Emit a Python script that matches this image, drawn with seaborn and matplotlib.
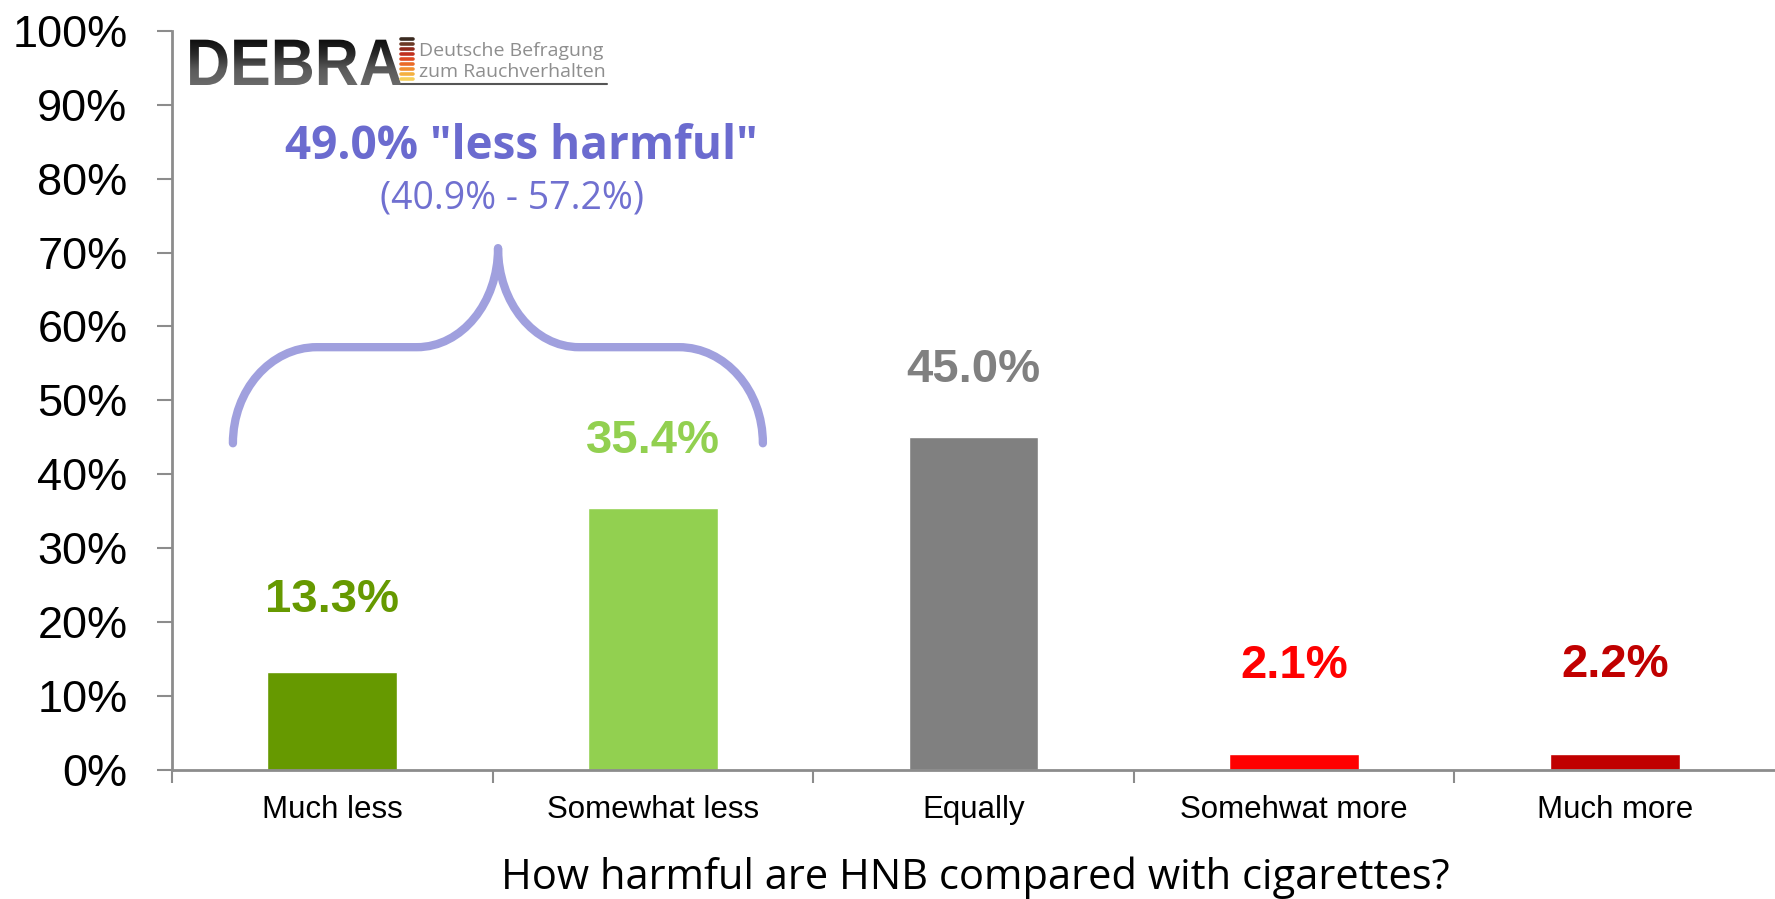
import numpy as np
import pandas as pd
import matplotlib
matplotlib.use("Agg")
import matplotlib.pyplot as plt
from matplotlib.path import Path
from matplotlib.patches import PathPatch
from matplotlib.lines import Line2D
from matplotlib.textpath import TextPath
from matplotlib.font_manager import FontProperties
from matplotlib.transforms import Affine2D
from matplotlib.colors import LinearSegmentedColormap
import seaborn as sns

# ---- data ----
categories = ["Much less", "Somewhat less", "Equally", "Somehwat more", "Much more"]
shares = [13.3, 35.4, 45.0, 2.1, 2.2]
bar_colors = ["#669900", "#92D050", "#808080", "#FF0000", "#C00000"]
y_ticks = list(range(0, 101, 10))
combined_share = 49.0
combined_ci = (40.9, 57.2)
x_title = "How harmful are HNB compared with cigarettes?"

# ---- style ----
sns.set_theme(style="white")
plt.rcParams["font.family"] = ["Liberation Sans", "DejaVu Sans"]

W, H = 1775, 899
fig = plt.figure(figsize=(W / 100, H / 100), dpi=100)
fig.patch.set_facecolor("white")


def fx(px):
    return px / W


def fy(py):
    return 1 - py / H


ax = fig.add_axes([fx(172), fy(770), 1 - fx(172), (770 - 30.8) / H])

df = pd.DataFrame({"category": categories, "share": shares})
sns.barplot(data=df, x="category", y="share", hue="category",
            palette=bar_colors, width=0.405, saturation=1,
            legend=False, ax=ax)

ax.set_xlim(-0.5, len(categories) - 0.5)
ax.set_ylim(0, 100)
ax.set_xlabel("")
ax.set_ylabel("")

axis_grey = "#8C8C8C"
for side in ("top", "right"):
    ax.spines[side].set_visible(False)
for side in ("left", "bottom"):
    ax.spines[side].set_color(axis_grey)
    ax.spines[side].set_linewidth(2)

ax.set_yticks(y_ticks)
ax.set_yticklabels([f"{t}%" for t in y_ticks])
ax.tick_params(axis="y", left=True, length=11, width=1.5, color=axis_grey,
               pad=21, labelsize=32.5, labelcolor="black")
ax.set_xticks(range(len(categories)))
ax.set_xticklabels(categories)
ax.tick_params(axis="x", which="major", bottom=True, length=0, pad=18,
               labelsize=22.5, labelcolor="black")
ax.set_xticks(np.arange(-0.5, len(categories) - 0.5, 1), minor=True)
ax.tick_params(axis="x", which="minor", bottom=True, length=9, width=1.5,
               color=axis_grey)

# value labels above each bar
label_offsets = [43, 40, 40, 55, 55]
for i, (v, c, off) in enumerate(zip(shares, bar_colors, label_offsets)):
    ax.annotate(f"{v:.1f}%", xy=(i, v), xytext=(0, off),
                textcoords="offset points", ha="center", va="baseline",
                fontsize=34, fontweight="bold", color=c)

# curly brace grouping the two "less" categories
bl, bm1, bm2, btip, bm3, bm4, br = -0.310, -0.048, 0.264, 0.517, 0.770, 1.081, 1.343
ybase, yflat, ytop = 44.2, 57.2, 70.6
k = 0.552
verts = [
    (bl, ybase),
    (bl, ybase + k * (yflat - ybase)), (bm1 - k * (bm1 - bl), yflat), (bm1, yflat),
    (bm2, yflat),
    (bm2 + k * (btip - bm2), yflat), (btip, ytop - k * (ytop - yflat)), (btip, ytop),
    (btip, ytop - k * (ytop - yflat)), (bm3 - k * (bm3 - btip), yflat), (bm3, yflat),
    (bm4, yflat),
    (bm4 + k * (br - bm4), yflat), (br, ybase + k * (yflat - ybase)), (br, ybase),
]
codes = ([Path.MOVETO] + [Path.CURVE4] * 3 + [Path.LINETO] + [Path.CURVE4] * 6
         + [Path.LINETO] + [Path.CURVE4] * 3)
brace = PathPatch(Path(verts, codes), facecolor="none", edgecolor="#A0A0DE",
                  linewidth=6, capstyle="round", joinstyle="round",
                  clip_on=False)
ax.add_patch(brace)

ax.text(0.589, 84.4, f'{combined_share:.1f}% "less harmful"', ha="center",
        va="center", fontsize=33, fontweight="bold", color="#6B6BCF",
        family=["Open Sans", "DejaVu Sans"])
ax.text(0.559, 77.3, f"({combined_ci[0]:.1f}% - {combined_ci[1]:.1f}%)",
        ha="center", va="center", fontsize=27, color="#7070D0",
        family=["Open Sans", "DejaVu Sans"])

# axis title
fig.text(fx(975), fy(878), x_title, ha="center", va="center", fontsize=30,
         color="black", family=["Open Sans", "DejaVu Sans"])

# DEBRA logo: overlay in pixel coordinates
lax = fig.add_axes([0, 0, 1, 1], zorder=5)
lax.set_xlim(0, W)
lax.set_ylim(H, 0)
lax.axis("off")
lax.patch.set_alpha(0)

logo_fp = FontProperties(family="Liberation Sans", weight="bold")
tp = TextPath((0, 0), "DEBRA", size=61, prop=logo_fp)
tp_tr = Affine2D().scale(1.0, -1.08).translate(186, 85)
logo_path = tp_tr.transform_path(tp)
logo_patch = PathPatch(logo_path, facecolor="none", edgecolor="none")
lax.add_patch(logo_patch)
grad = np.linspace(0, 1, 64).reshape(-1, 1)
logo_cmap = LinearSegmentedColormap.from_list(
    "logo", ["#0E0E0E", "#2A2A2A", "#5A5A5A", "#6A6A6A"])
ext = logo_path.get_extents()
im = lax.imshow(grad, cmap=logo_cmap, aspect="auto",
                extent=[ext.x0, ext.x1, ext.y1, ext.y0], interpolation="bilinear")
im.set_clip_path(logo_patch)

stripe_colors = ["#3A2A20", "#6B3A26", "#8E2A1C", "#C0301E", "#DD4A22",
                 "#EA6A26", "#F08E30", "#F4B040", "#F6CF5A"]
for j, sc in enumerate(stripe_colors):
    yy = 39 + j * 5
    lax.add_line(Line2D([401, 413], [yy, yy], color=sc, linewidth=2.6))
lax.text(419, 56, "Deutsche Befragung", ha="left", va="baseline",
         fontsize=14, color="#8E8E8E", family=["Open Sans", "DejaVu Sans"])
lax.text(419, 77, "zum Rauchverhalten", ha="left", va="baseline",
         fontsize=14, color="#8E8E8E", family=["Open Sans", "DejaVu Sans"])
lax.add_line(Line2D([401, 607], [84, 84], color="#555555", linewidth=1.5))

fig.savefig("out.png", dpi=100, facecolor="white")
